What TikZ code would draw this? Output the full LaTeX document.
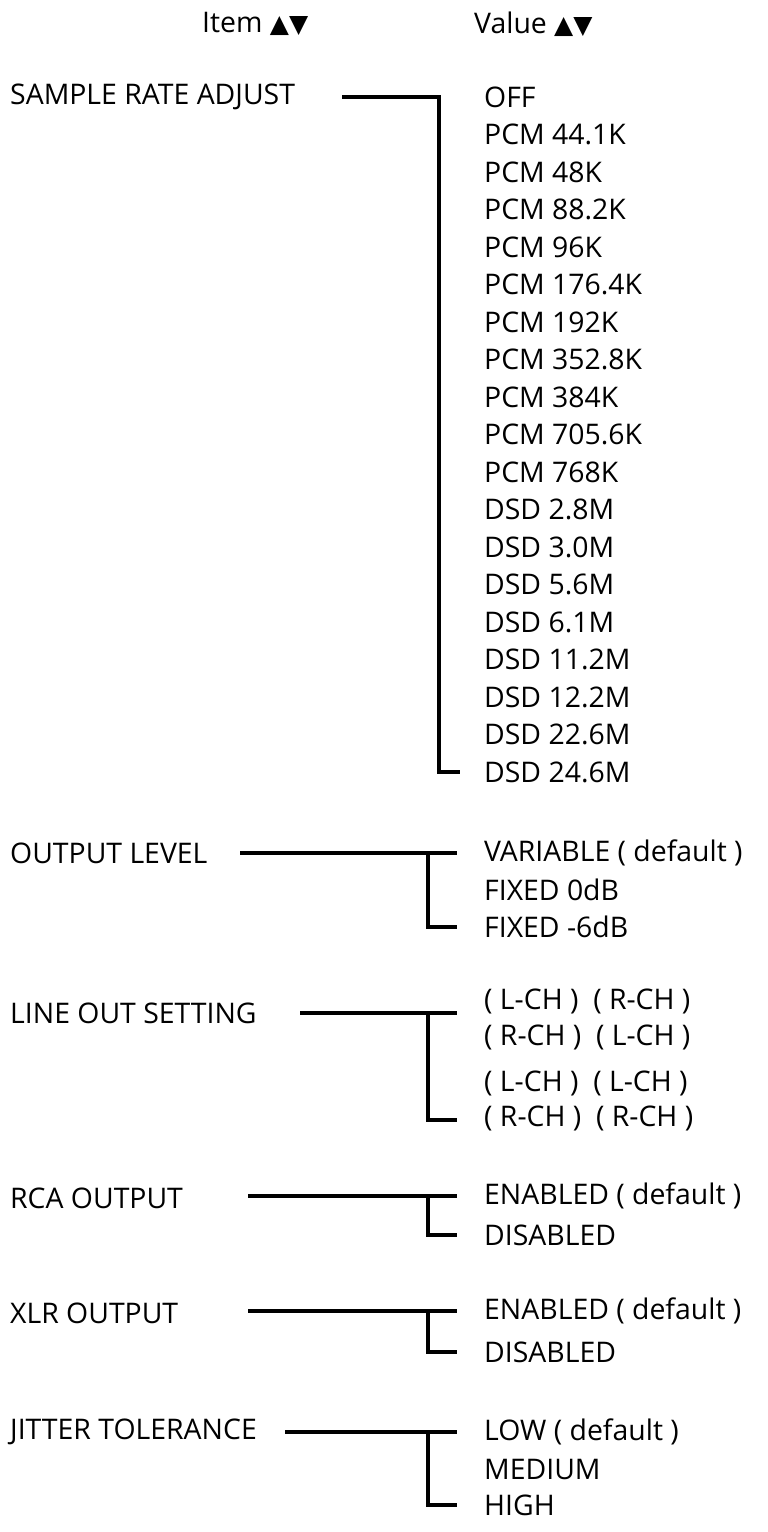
\documentclass[tikz,border=0pt]{standalone}
\usepackage{fontspec}
\setmainfont{Open Sans}
\newfontfamily\symf{DejaVu Sans}
\begin{document}
\begin{tikzpicture}[x=1bp,y=-1bp,
  lab/.style={anchor=west,inner sep=0pt,font=\fontsize{28.5}{30}\selectfont},
  ln/.style={line width=3.6bp}]
\useasboundingbox (0,0) rectangle (767,1532);
\node[lab] (hi) at (202,24) {Item {\symf\fontsize{25}{26}\selectfont ▲▼}};
\node[lab] (hv) at (474,24) {Value {\symf\fontsize{25}{26}\selectfont ▲▼}};
% Sample rate
\node[lab] (s) at (10,97) {SAMPLE RATE ADJUST};
\foreach \t [count=\i from 0] in {OFF,PCM 44.1K,PCM 48K,PCM 88.2K,PCM 96K,PCM 176.4K,PCM 192K,PCM 352.8K,PCM 384K,PCM 705.6K,PCM 768K,DSD 2.8M,DSD 3.0M,DSD 5.6M,DSD 6.1M,DSD 11.2M,DSD 12.2M,DSD 22.6M,DSD 24.6M}
  \node[lab] (sv\i) at (484,{97+37.5*\i}) {\t};
\coordinate (sa) at (342,97); \coordinate (sb) at (439,97);
\coordinate (sc) at (439,772); \coordinate (sd) at (460,772);
\draw[ln] (sa) -- (sb) -- (sc) -- (sd);
% Output level
\node[lab] (o) at (10,853) {OUTPUT LEVEL};
\node[lab] (o1) at (484,853) {VARIABLE ( default )};
\node[lab] (o2) at (484,890) {FIXED 0dB};
\node[lab] (o3) at (484,927) {FIXED -6dB};
\draw[ln] (240,853) -- (457,853); \draw[ln] (428,853) -- (428,927) -- (457,927);
% Line out
\node[lab] (l) at (10,1013) {LINE OUT SETTING};
\node[lab] (l1) at (484,1001) {( L-CH )\ \ ( R-CH )};
\node[lab] (l2) at (484,1037) {( R-CH )\ \ ( L-CH )};
\node[lab] (l3) at (484,1083) {( L-CH )\ \ ( L-CH )};
\node[lab] (l4) at (484,1118) {( R-CH )\ \ ( R-CH )};
\draw[ln] (300,1013) -- (457,1013); \draw[ln] (428,1013) -- (428,1120) -- (457,1120);
% RCA
\node[lab] (r) at (10,1198) {RCA OUTPUT};
\node[lab] (r1) at (484,1196) {ENABLED ( default )};
\node[lab] (r2) at (484,1235) {DISABLED};
\draw[ln] (248,1196) -- (457,1196); \draw[ln] (428,1196) -- (428,1235) -- (457,1235);
% XLR
\node[lab] (x) at (10,1313) {XLR OUTPUT};
\node[lab] (x1) at (484,1311) {ENABLED ( default )};
\node[lab] (x2) at (484,1352) {DISABLED};
\draw[ln] (248,1311) -- (457,1311); \draw[ln] (428,1311) -- (428,1352) -- (457,1352);
% Jitter
\node[lab] (j) at (10,1432) {JITTER TOLERANCE};
\node[lab] (j1) at (484,1432) {LOW ( default )};
\node[lab] (j2) at (484,1469) {MEDIUM};
\node[lab] (j3) at (484,1505) {HIGH};
\draw[ln] (285,1432) -- (457,1432); \draw[ln] (428,1432) -- (428,1505) -- (457,1505);
\end{tikzpicture}
\end{document}
